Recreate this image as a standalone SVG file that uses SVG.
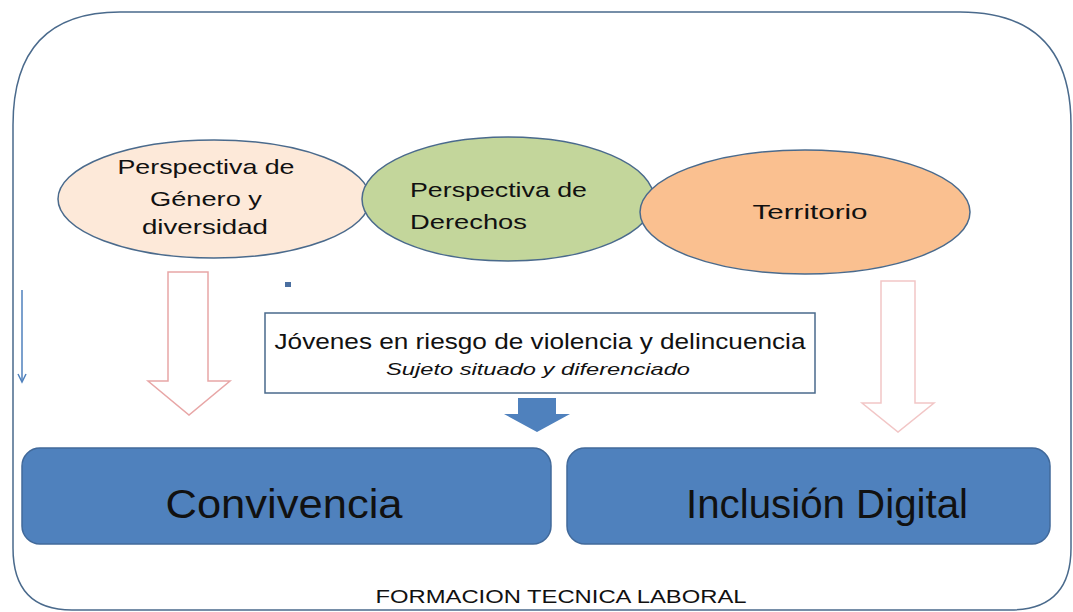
<svg xmlns="http://www.w3.org/2000/svg" width="1073" height="612" viewBox="0 0 1073 612">
<style>
.t{font-family:"Liberation Sans",Arial,sans-serif;fill:#111;}
.ell{stroke:#4a6a8c;stroke-width:1.5;}
.big{fill:#4f81bd;stroke:#41699a;stroke-width:1.5;}
</style>
<rect width="1073" height="612" fill="#fff"/>
<g id="frame">
<path d="M120,12 H960 Q1071,12 1071,125 V548 Q1071,610 1010,610 H72 Q13,610 13,548 V125 Q13,12 120,12 Z" fill="#fff" stroke="#4a6a8c" stroke-width="1.5"/>
<text class="t" x="561" y="603" font-size="19" text-anchor="middle" textLength="371" lengthAdjust="spacingAndGlyphs">FORMACION TECNICA LABORAL</text>
</g>
<g id="genero">
<ellipse class="ell" cx="214" cy="199" rx="156" ry="59" fill="#fde9d9"/>
<text class="t" x="206" y="174" font-size="21" text-anchor="middle" textLength="177" lengthAdjust="spacingAndGlyphs">Perspectiva de</text>
<text class="t" x="206" y="206" font-size="21" text-anchor="middle" textLength="112" lengthAdjust="spacingAndGlyphs">Género y</text>
<text class="t" x="205" y="234" font-size="21" text-anchor="middle" textLength="126" lengthAdjust="spacingAndGlyphs">diversidad</text>
</g>
<g id="derechos">
<ellipse class="ell" cx="508" cy="199" rx="146" ry="62" fill="#c3d69b"/>
<text class="t" x="410" y="197" font-size="21" textLength="177" lengthAdjust="spacingAndGlyphs">Perspectiva de</text>
<text class="t" x="410" y="229" font-size="21" textLength="117" lengthAdjust="spacingAndGlyphs">Derechos</text>
</g>
<g id="territorio">
<ellipse class="ell" cx="805" cy="212" rx="165" ry="62" fill="#fac090"/>
<text class="t" x="810" y="219" font-size="21" text-anchor="middle" textLength="115" lengthAdjust="spacingAndGlyphs">Territorio</text>
</g>
<g id="jovenes">
<rect x="265" y="313" width="550" height="80" fill="#fff" stroke="#4a6a8c" stroke-width="1.5"/>
<text class="t" x="540" y="349" font-size="22" text-anchor="middle" textLength="531" lengthAdjust="spacingAndGlyphs">Jóvenes en riesgo de violencia y delincuencia</text>
<text class="t" x="538" y="375" font-size="17" font-style="italic" text-anchor="middle" textLength="304" lengthAdjust="spacingAndGlyphs">Sujeto situado y diferenciado</text>
</g>
<g id="convivencia">
<rect class="big" x="22" y="448" width="529" height="96" rx="18"/>
<text class="t" x="284" y="518" font-size="41" text-anchor="middle" textLength="237" lengthAdjust="spacingAndGlyphs">Convivencia</text>
</g>
<g id="inclusion">
<rect class="big" x="567" y="448" width="483" height="96" rx="18"/>
<text class="t" x="827" y="518" font-size="41" text-anchor="middle" textLength="282" lengthAdjust="spacingAndGlyphs">Inclusión Digital</text>
</g>
<g id="connectors">
<path d="M168,272 H208 V381 H230 L189,415 L148,381 H168 Z" fill="#fff" stroke="#e8a6a6" stroke-width="1.5"/>
<path d="M881,281 H915 V403 H934 L898,432 L862,403 H881 Z" fill="#fff" stroke="#f2c6c6" stroke-width="1.5"/>
<path d="M518,398 H556 V414 H570 L537,432 L504,414 H518 Z" fill="#4f81bd"/>
<line x1="22" y1="290" x2="22" y2="381" stroke="#4f81bd" stroke-width="1.5"/>
<path d="M18,374 L22,382 L26,374" fill="none" stroke="#4f81bd" stroke-width="1.5"/>
<rect x="285" y="282" width="6" height="5" fill="#4a6fa0"/>
</g>
</svg>
